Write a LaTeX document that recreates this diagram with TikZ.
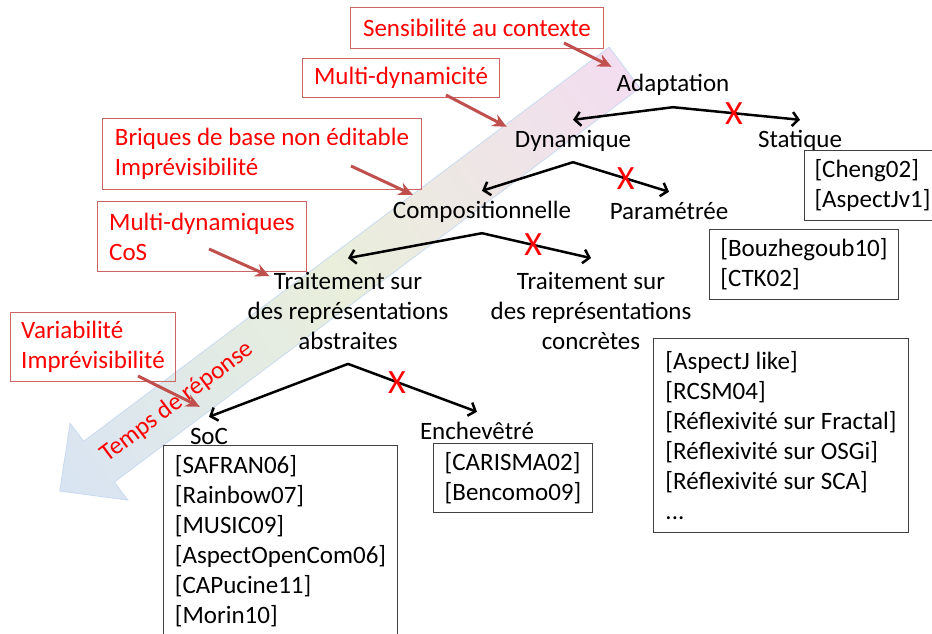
\documentclass[tikz,border=0pt]{standalone}
\usepackage{fontspec}
\setmainfont{Carlito}
\usetikzlibrary{arrows.meta}
\definecolor{hintred}{RGB}{192,80,77}
\definecolor{boxred}{RGB}{205,100,100}
\definecolor{arrpink}{RGB}{243,221,240}
\definecolor{arrgreen}{RGB}{233,239,219}
\definecolor{arrblue}{RGB}{217,228,243}
\definecolor{arredge}{RGB}{200,218,240}
\newcommand\txt{\fontsize{25}{30}\selectfont}
\tikzstyle{every node}=[font=\txt]
\tikzstyle{lvl}=[inner xsep=2pt, inner ysep=10pt, text height=17pt, text depth=5pt, anchor=base]
\tikzstyle{lvlm}=[align=center, inner xsep=2pt, inner ysep=14pt]
\tikzstyle{note}=[draw=boxred, line width=1pt, text=red, align=left, inner xsep=10pt, anchor=north west]
\tikzstyle{refs}=[draw=black!75, line width=1pt, align=left, inner xsep=10pt, anchor=north west]
\tikzstyle{branch}=[line width=2.5pt, -{Straight Barb[length=6pt,width=14pt]}]
\tikzstyle{hint}=[hintred, line width=3pt, -{Stealth[length=14pt,width=13pt]}]
\tikzstyle{cross}=[text=red, font=\fontsize{34}{34}\selectfont, inner sep=0pt]
\begin{document}
\begin{tikzpicture}[x=1pt,y=-1pt]
\useasboundingbox (0,0) rectangle (932,634);
\begin{scope}[transform canvas={shift={(624.5,67.5)},rotate=216.87}]
\path[draw=arredge, line width=0.8pt, left color=arrpink, right color=arrblue, middle color=arrgreen]
(0,-25.5) -- (657,-25.5) -- (657,-48) -- (706,0) -- (657,48) -- (657,25.5) -- (0,25.5) -- cycle;
\end{scope}
\node[text=red, rotate=36.87] (tdr) at (177,402) {Temps de réponse};

\node[note, minimum width=253, minimum height=41] (sens) at (350,7) {Sensibilité au contexte};
\node[note, minimum width=197, minimum height=39] (mdyn) at (302,58) {Multi-dynamicité};
\node[note, minimum width=319, minimum height=71] (briq) at (102,118) {Briques de base non éditable\\Imprévisibilité};
\node[note, minimum width=209, minimum height=70] (mdyns) at (97,201) {Multi-dynamiques\\CoS};
\node[note, minimum width=165, minimum height=69] (vari) at (10,312) {Variabilité\\Imprévisibilité};

\node[lvl] (adapt) at (673,92) {Adaptation};
\node[lvl] (dyn) at (573,147) {Dynamique};
\node[lvl] (stat) at (800,147) {Statique};
\node[lvl] (comp) at (482,218) {Compositionnelle};
\node[lvl] (param) at (669,219) {Paramétrée};
\node[lvlm] (trA) at (348,311) {Traitement sur\\des représentations\\abstraites};
\node[lvlm] (trC) at (591,311) {Traitement sur\\des représentations\\concrètes};
\node[lvl] (soc) at (209,444) {SoC};
\node[lvl] (ench) at (477,439) {Enchevêtré};

\node[refs, minimum width=127, minimum height=70] (cstat) at (804,150) {[Cheng02]\\{}[AspectJv1]};
\node[refs, minimum width=189, minimum height=70] (cparam) at (709,229) {[Bouzhegoub10]\\{}[CTK02]};
\node[refs, minimum width=255, minimum height=194] (cconc) at (653,338) {[AspectJ like]\\{}[RCSM04]\\{}[Réflexivité sur Fractal]\\{}[Réflexivité sur OSGi]\\{}[Réflexivité sur SCA]\\...};
\node[refs, minimum width=234, minimum height=192] (csoc) at (163,445) {[SAFRAN06]\\{}[Rainbow07]\\{}[MUSIC09]\\{}[AspectOpenCom06]\\{}[CAPucine11]\\{}[Morin10]};
\node[refs, minimum width=159, minimum height=69] (cench) at (433,443) {[CARISMA02]\\{}[Bencomo09]};

\draw[branch] (adapt.south) -- (dyn.north);
\draw[branch] (adapt.south) -- node[cross, pos=0.48] (x1) {X} (stat.north);
\draw[branch] (dyn.south) -- (comp.north);
\draw[branch] (dyn.south) -- node[cross, pos=0.55] (x2) {X} (param.north);
\draw[branch] (comp.south) -- (trA.north);
\draw[branch] (comp.south) -- node[cross, pos=0.47] (x3) {X} (trC.north);
\draw[branch] (trA.south) -- (soc.north);
\draw[branch] (trA.south) -- node[cross, pos=0.38] (x4) {X} (ench.north);

\draw[hint] ([xshift=-40pt,yshift=6pt]sens.south east) -- ([xshift=-3pt,yshift=-2pt]adapt.north west);
\draw[hint] ([xshift=-54pt,yshift=3pt]mdyn.south east) -- ([xshift=-6pt,yshift=-7pt]dyn.north west);
\draw[hint] ([xshift=-71pt,yshift=24pt]briq.south east) -- ([xshift=22pt,yshift=-4pt]comp.north west);
\draw[hint] ([xshift=-98pt,yshift=23pt]mdyns.south east) -- ([xshift=24pt,yshift=-18pt]trA.north west);
\draw[hint] ([xshift=-38pt,yshift=6pt]vari.south east) -- ([xshift=12pt,yshift=10pt]soc.north west);
\end{tikzpicture}
\end{document}
